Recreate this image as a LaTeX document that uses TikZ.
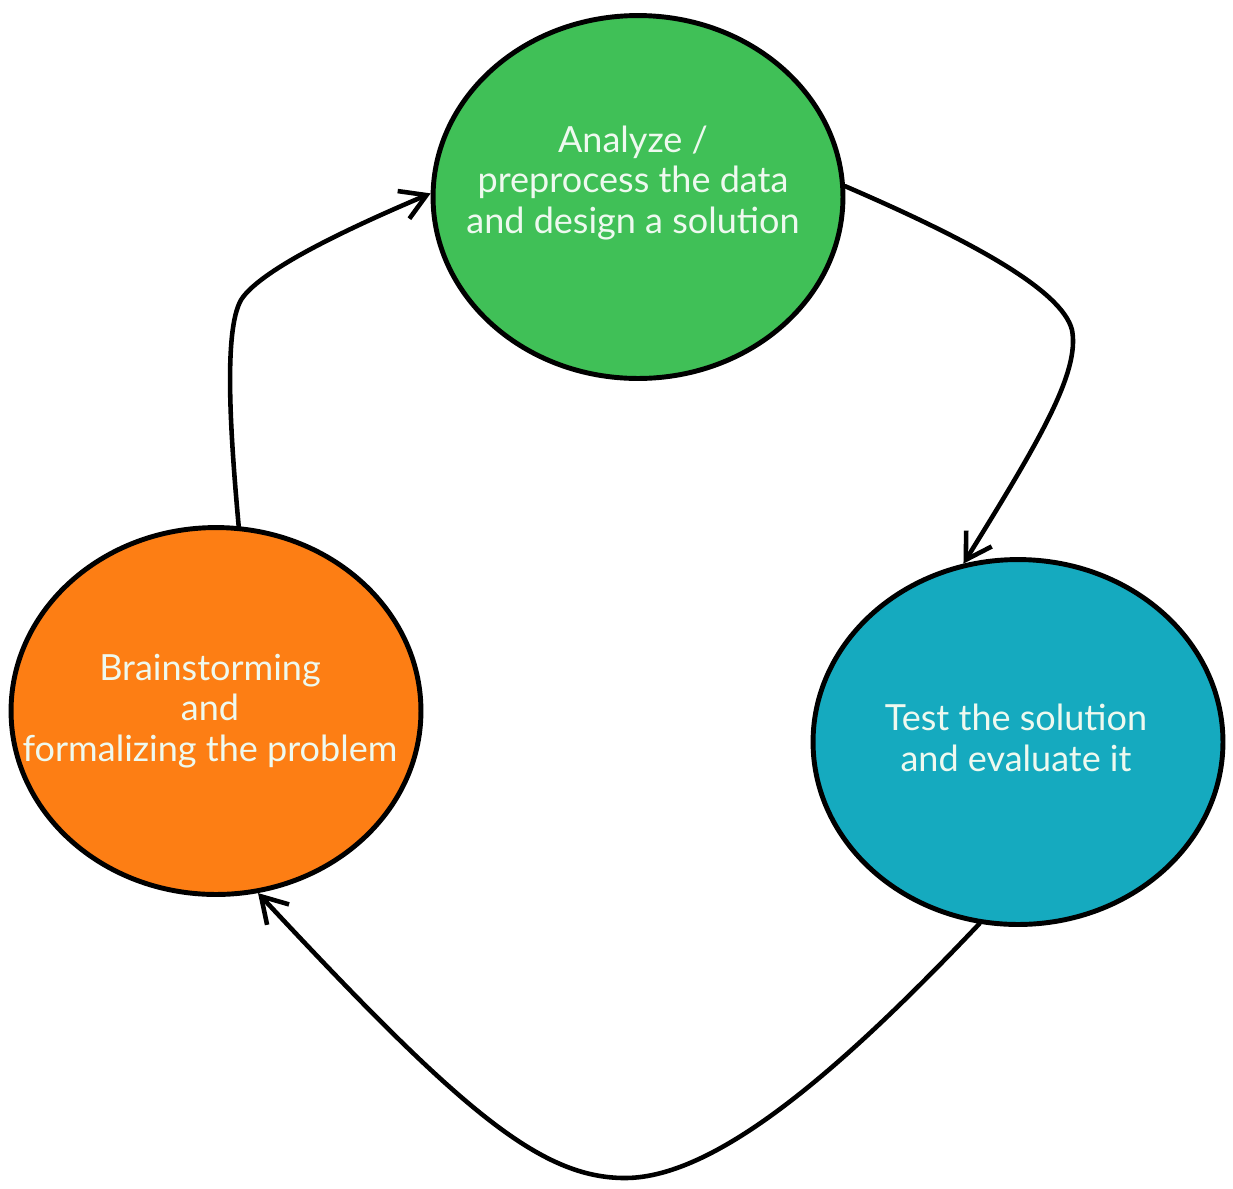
\documentclass[tikz,border=0pt]{standalone}
\usepackage{fontspec}
\setmainfont{Lato}
\usepackage{tikz}
\usetikzlibrary{positioning}
\usetikzlibrary{shapes.geometric}
\usetikzlibrary{arrows.meta}
\definecolor{stepgreen}{HTML}{40C057}
\definecolor{steporange}{HTML}{FD7E14}
\definecolor{stepteal}{HTML}{15AABF}
\definecolor{steptext}{HTML}{EEF9EF}

\begin{document}
\begin{tikzpicture}[x=0.02cm,y=-0.02cm,
        phase/.style={ellipse,draw=black,line width=2.8pt,inner sep=0pt,minimum width=8.2cm},
        phasetext/.style={align=center,text=steptext,font=\fontsize{20.5}{23}\selectfont},
        loop/.style={line width=2.6pt,line cap=round,-{Straight Barb[length=5mm,width=6mm]}}]
        \useasboundingbox (0,0) rectangle (1233,1188);
        % the three phases
        \node[phase,fill=stepgreen,minimum height=7.26cm] (analyze) at (638,197) {};
        \node[phase,fill=steporange,minimum height=7.34cm] (brain) at (216,711) {};
        \node[phase,fill=stepteal,minimum height=7.3cm] (test) at (1018,742) {};
        \node[phasetext] (analyze-txt) at (633,183) {Analyze /\\preprocess the data\\and design a solution};
        \node[phasetext] (brain-txt) at (210,711) {Brainstorming\\and\\formalizing the problem};
        \node[phasetext] (test-txt) at (1016,738) {Test the solution\\and evaluate it};
        % the loop
        \draw[loop] (brain.83) .. controls (230,430) and (223,323) .. (243,297)
            .. controls (263,271) and (330,236) .. (analyze.179);
        \draw[loop] (analyze.3) .. controls (970,240) and (1062,290) .. (1072,330)
            .. controls (1080,372) and (1040,440) .. (test.107);
        \draw[loop] (test.258) .. controls (850,1060) and (720,1178) .. (625,1178)
            .. controls (540,1178) and (460,1110) .. (brain.283);
\end{tikzpicture}
\end{document}
